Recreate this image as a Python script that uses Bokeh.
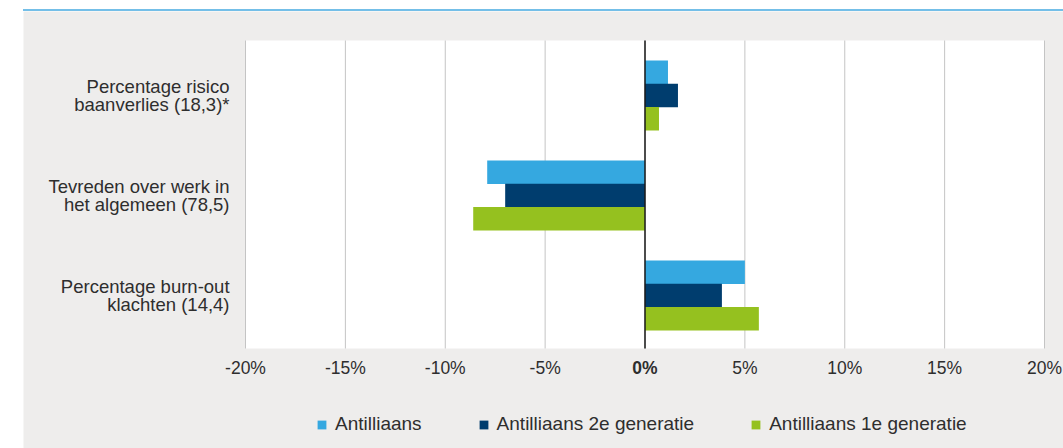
from bokeh.plotting import figure
from bokeh.models import (Range1d, Legend, LegendItem, BoxAnnotation,
                          Spacer, Div, ColumnDataSource)
from bokeh.core.properties import value
from bokeh.layouts import row, column
from bokeh.transform import dodge
from bokeh.embed import file_html
from bokeh.resources import INLINE

# ---- data ----
categories = [
    "Percentage risico\nbaanverlies (18,3)*",
    "Tevreden over werk in\nhet algemeen (78,5)",
    "Percentage burn-out\nklachten (14,4)",
]
series_names = ["Antilliaans", "Antilliaans 2e generatie", "Antilliaans 1e generatie"]
antilliaans = [1.15, -7.9, 5.0]
antilliaans_2e = [1.65, -7.0, 3.85]
antilliaans_1e = [0.7, -8.6, 5.7]
x_ticks = [-20, -15, -10, -5, 0, 5, 10, 15, 20]
x_tick_labels = ["-20%", "-15%", "-10%", "-5%", "0%", "5%", "10%", "15%", "20%"]

# ---- style ----
colors = ["#35a8e0", "#003d6e", "#95c11f"]
FONT = "Liberation Sans"
TXT = "#2e2e2e"
X_MIN, X_MAX = -20, 20          # value axis limits
Y_TOP, Y_BOTTOM = -0.55, 2.53   # plot-area extent on the category scale
TICK_Y = 2.72                   # row of the value-axis labels
CAT_X = -20.8                   # right edge of the category labels

pos = list(range(len(categories)))
source = ColumnDataSource(dict(pos=pos, a=antilliaans, b=antilliaans_2e, c=antilliaans_1e))

p = figure(width=1040, height=437,
           x_range=Range1d(-31.114, 20.951), y_range=Range1d(3.53, -0.84),
           x_axis_location=None, y_axis_location=None,
           output_backend="svg", toolbar_location=None,
           min_border=0, border_fill_color="#eeedec", background_fill_color="#eeedec",
           outline_line_color=None)
p.xgrid.visible = False
p.ygrid.visible = False

# white plot area
p.add_layout(BoxAnnotation(left=X_MIN, right=X_MAX, top=Y_TOP, bottom=Y_BOTTOM,
                           fill_color="white", fill_alpha=1, line_color=None,
                           level="underlay"))

# vertical grid lines
p.segment(x0=x_ticks, x1=x_ticks, y0=Y_TOP, y1=Y_BOTTOM,
          line_color="#c4c4c4", line_width=1)

bh = 0.234
renderers = []
for key, off, col in zip(["a", "b", "c"], [-0.233, 0.0, 0.233], colors):
    r = p.hbar(y=dodge("pos", off), left=0, right=key, height=bh, source=source,
               fill_color=col, line_color=None)
    renderers.append(r)

# zero line
p.segment(x0=[0], x1=[0], y0=Y_TOP, y1=Y_BOTTOM, line_color="#1a1a1a", line_width=1.5)

# value-axis labels (0% bold)
tick_src = ColumnDataSource(dict(
    x=x_ticks, text=x_tick_labels,
    style=["bold" if t == 0 else "normal" for t in x_ticks]))
p.text(x="x", y=TICK_Y, text="text", source=tick_src, text_font_style="style",
       text_align="center", text_baseline="middle", text_font=value(FONT),
       text_font_size="17.5px", text_color=TXT)

# category labels
cat_src = ColumnDataSource(dict(y=pos, text=categories))
p.text(x=CAT_X, y="y", text="text", source=cat_src,
       text_align="right", text_baseline="middle", text_font=value(FONT),
       text_font_size="18.5px", text_color=TXT, text_line_height=0.9)

legend = Legend(items=[LegendItem(label=n, renderers=[r]) for n, r in zip(series_names, renderers)],
                orientation="horizontal", location=(293, 13),
                glyph_width=11, glyph_height=11, label_standoff=8, spacing=56,
                padding=0, margin=0, border_line_color=None, background_fill_alpha=0,
                label_text_font_size="19px", label_text_font=FONT, label_text_color=TXT)
p.add_layout(legend)

top_line = Div(text="", width=1040, height=2, margin=0,
               styles={"background-color": "#74bfe8"})
layout = row(Spacer(width=23, height=448, margin=0),
             column(Spacer(width=1040, height=9, margin=0), top_line, p))

open("out.html", "w").write(file_html(layout, INLINE))
